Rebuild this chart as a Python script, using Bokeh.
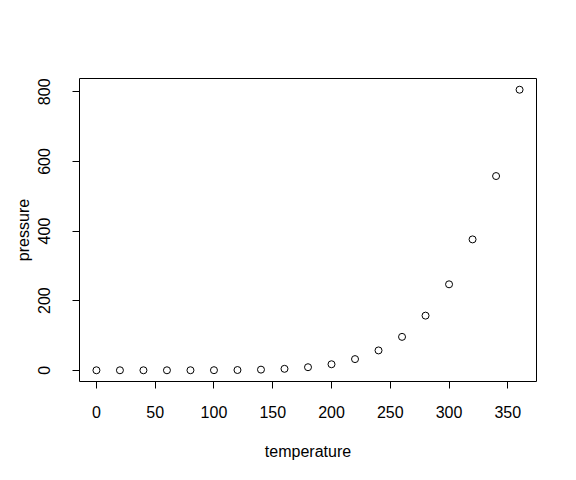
from bokeh.plotting import figure
from bokeh.models import Range1d, FixedTicker
from bokeh.embed import file_html
from bokeh.resources import INLINE

temperature = [0, 20, 40, 60, 80, 100, 120, 140, 160, 180, 200, 220, 240, 260, 280, 300, 320, 340, 360]
pressure = [0.0002, 0.0012, 0.0060, 0.0300, 0.0900, 0.2700, 0.7500, 1.8500, 4.2000, 8.8000,
            17.3000, 32.1000, 57.0000, 96.0000, 157.0000, 247.0000, 376.0000, 558.0000, 806.0000]
x_ticks = [0, 50, 100, 150, 200, 250, 300, 350]
y_ticks = [0, 200, 400, 600, 800]

def ext(vals):
    lo, hi = min(vals), max(vals)
    d = (hi - lo) * 0.04
    return lo - d, hi + d

xr = ext(temperature)
yr = ext(pressure)

FONT = "Liberation Sans"

p = figure(width=568, height=472, output_backend="svg", toolbar_location=None,
           x_range=Range1d(*xr), y_range=Range1d(*yr),
           min_border_left=79, min_border_right=32, min_border_top=78, min_border_bottom=91)
p.grid.visible = False
p.outline_line_color = "black"
p.outline_line_width = 1
p.background_fill_color = "white"
p.border_fill_color = "white"

p.scatter(temperature, pressure, marker="circle", size=7, fill_color=None,
          line_color="black", line_width=1)

for ax, ticks in ((p.xaxis[0], x_ticks), (p.yaxis[0], y_ticks)):
    ax.ticker = FixedTicker(ticks=ticks)
    ax.axis_line_color = None
    ax.major_tick_in = 0
    ax.major_tick_out = 7
    ax.major_tick_line_color = "black"
    ax.minor_tick_line_color = None
    ax.major_label_text_font = FONT
    ax.major_label_text_font_size = "16px"
    ax.major_label_text_color = "black"
    ax.axis_label_text_font = FONT
    ax.axis_label_text_font_size = "16px"
    ax.axis_label_text_font_style = "normal"
    ax.axis_label_text_color = "black"

p.xaxis.axis_label = "temperature"
p.yaxis.axis_label = "pressure"
p.xaxis.major_label_standoff = 17
p.xaxis.axis_label_standoff = 22
p.yaxis.major_label_orientation = "vertical"
p.yaxis.major_label_standoff = 22
p.yaxis.axis_label_standoff = 4

open("out.html", "w").write(file_html(p, INLINE))
